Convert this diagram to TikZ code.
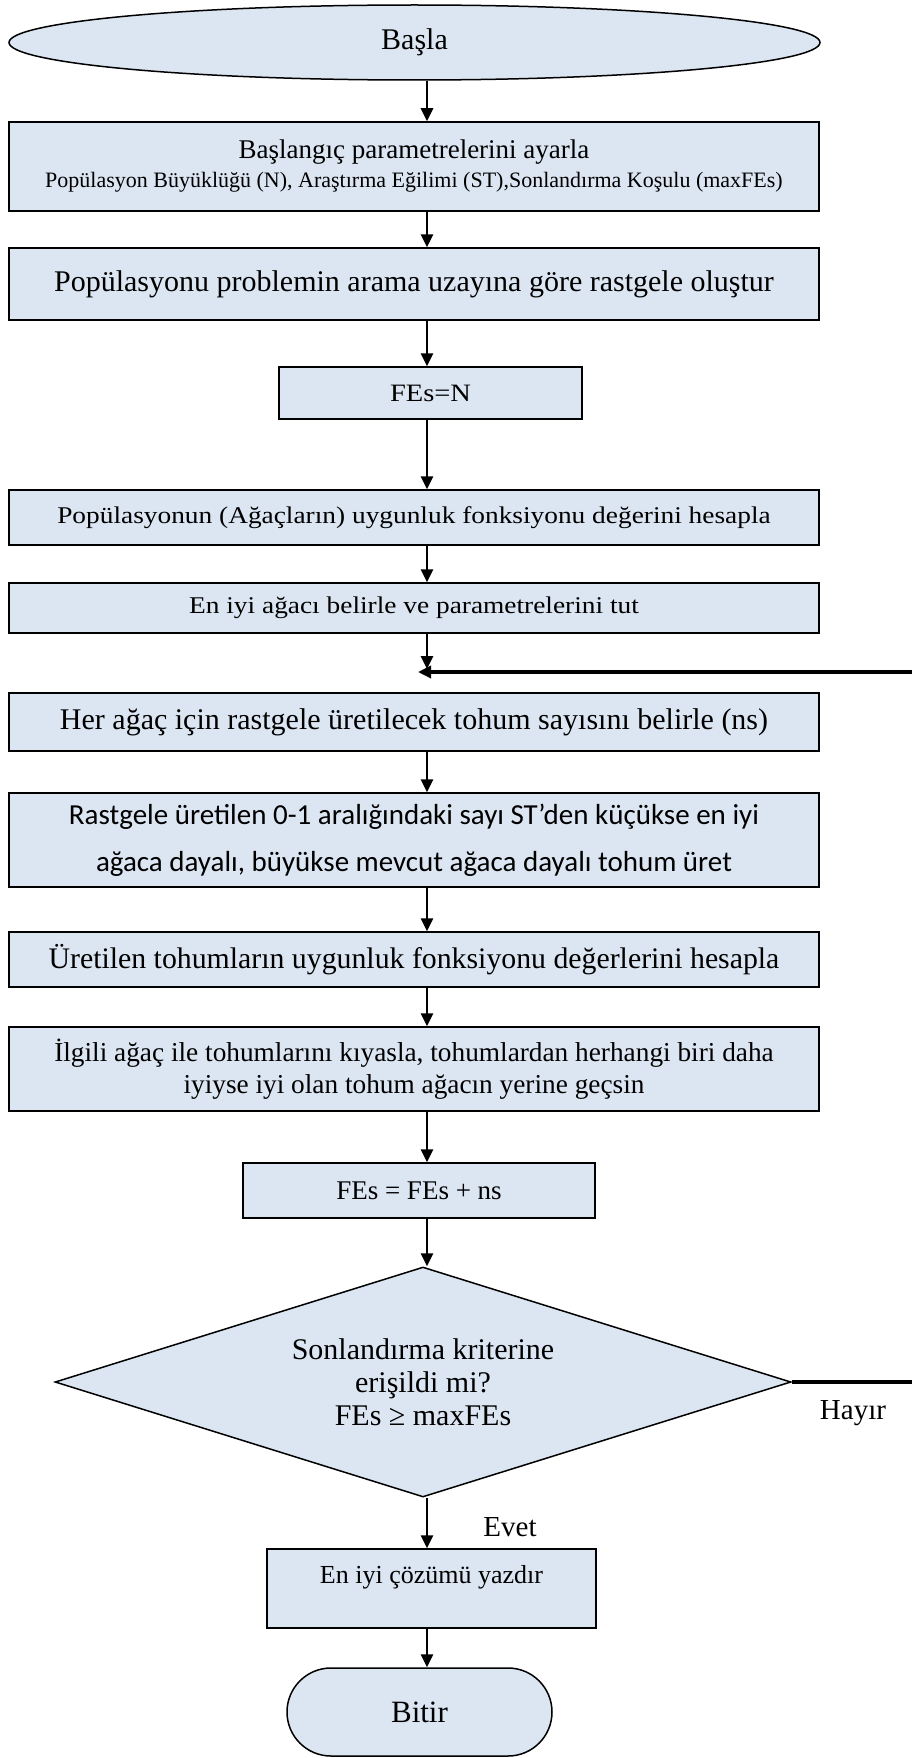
\documentclass[tikz,border=0pt]{standalone}
\usepackage{fontspec}
\setmainfont{Liberation Serif}
\newfontfamily\widefont[FakeStretch=1.14]{Liberation Serif}
\newfontfamily\calfont{Carlito}
\usetikzlibrary{shapes, arrows.meta, calc, positioning}
\definecolor{boxblue}{HTML}{DCE6F2}
\tikzset{
    base/.style = {draw, fill=boxblue, line width=1.5pt, inner sep=0pt, align=center},
    box/.style = {base, rectangle},% plain process box
    term/.style = {base, ellipse},
    stadium/.style = {base, rectangle, rounded corners=44pt},
    dec/.style = {base, diamond, shape aspect=3.2},
    arr/.style = {-{Triangle[length=13pt,width=12pt]}, line width=2.8pt},
    lbl/.style = {inner sep=0pt, font=\fontsize{29}{32}\selectfont}
}
\begin{document}
\begin{tikzpicture}[x=1pt, y=-1pt]
        \useasboundingbox (0,0) rectangle (912,1758);
        
        %nodes
        
        \node[term, minimum width=811pt, minimum height=75pt, font=\fontsize{30}{34}\selectfont] (start) at (414.5,42.5) {Başla};
        \node[box, minimum width=810pt, minimum height=89pt, font=\fontsize{22}{29}\selectfont] (b1) at (414,166.5) {{\fontsize{27}{29}\selectfont Başlangıç parametrelerini ayarla}\\Popülasyon Büyüklüğü (N), Araştırma Eğilimi (ST),Sonlandırma Koşulu (maxFEs)};
        \node[box, minimum width=810pt, minimum height=72pt, font=\fontsize{30}{34}\selectfont] (b2) at (414,284) {Popülasyonu problemin arama uzayına göre rastgele oluştur};
        \node[box, minimum width=303pt, minimum height=52pt, font=\widefont\fontsize{25}{29}\selectfont] (b3) at (430.5,393) {FEs=N};
        \node[box, minimum width=810pt, minimum height=55pt, font=\widefont\fontsize{24}{28}\selectfont] (b4) at (414,517.5) {Popülasyonun (Ağaçların) uygunluk fonksiyonu değerini hesapla};
        \node[box, minimum width=810pt, minimum height=50pt, font=\widefont\fontsize{24}{28}\selectfont] (b5) at (414,608) {En iyi ağacı belirle ve parametrelerini tut};
        \node[box, minimum width=810pt, minimum height=58pt, font=\fontsize{30}{34}\selectfont] (b6) at (414,722) {Her ağaç için rastgele üretilecek tohum sayısını belirle (ns)};
        \node[box, minimum width=810pt, minimum height=94pt, font=\calfont\fontsize{29}{47}\selectfont] (b7) at (414,840) {Rastgele üretilen 0-1 aralığındaki sayı ST’den küçükse en iyi\\ağaca dayalı, büyükse mevcut ağaca dayalı tohum üret};
        \node[box, minimum width=810pt, minimum height=55pt, font=\fontsize{29.8}{33}\selectfont] (b8) at (414,959.5) {Üretilen tohumların uygunluk fonksiyonu değerlerini hesapla};
        \node[box, minimum width=810pt, minimum height=84pt, font=\fontsize{27.3}{32}\selectfont] (b9) at (414,1069) {İlgili ağaç ile tohumlarını kıyasla, tohumlardan herhangi biri daha\\iyiyse iyi olan tohum ağacın yerine geçsin};
        \node[box, minimum width=352pt, minimum height=55pt, font=\fontsize{27}{31}\selectfont] (b10) at (419,1190.5) {FEs = FEs + ns};
        \node[dec, minimum width=736pt, minimum height=230pt, font=\fontsize{30}{33}\selectfont] (check) at (423,1382) {Sonlandırma kriterine\\erişildi mi?\\FEs ≥ maxFEs};
        \node[box, minimum width=329pt, minimum height=79pt, text depth=28pt, font=\fontsize{26}{30}\selectfont] (b11) at (431.5,1588.5) {En iyi çözümü yazdır};
        \node[stadium, minimum width=265pt, minimum height=88pt, font=\fontsize{31}{35}\selectfont] (stop) at (419.5,1712) {Bitir};
        \node[lbl] (no) at (853,1413) {Hayır};
        \node[lbl] (yes) at (510,1527) {Evet};
        
        %helper points
        
        \coordinate (col) at (427,0);
        \coordinate (jn) at (427,672);
        
        %arrows
        
        \draw[arr] (start.south -| col) -- (b1.north -| col);
        \draw[arr] (b1.south -| col) -- (b2.north -| col);
        \draw[arr] (b2.south -| col) -- (b3.north -| col);
        \draw[arr] (b3.south -| col) -- (b4.north -| col);
        \draw[arr] (b4.south -| col) -- (b5.north -| col);
        \draw[arr] (b5.south -| col) -- ([yshift=3pt]jn);
        \draw[arr] (b6.south -| col) -- (b7.north -| col);
        \draw[arr] (b7.south -| col) -- (b8.north -| col);
        \draw[arr] (b8.south -| col) -- (b9.north -| col);
        \draw[arr] (b9.south -| col) -- (b10.north -| col);
        \draw[arr] (b10.south -| col) -- (check.north -| col);
        \draw[arr] (check.south -| col) -- (b11.north -| col);
        \draw[arr] (b11.south -| col) -- (stop.north -| col);
        
        %loop back
        
        \draw[arr, line width=3.4pt] (check.east) -- ++(150,0) |- ([xshift=-9pt]jn);
    \end{tikzpicture}
\end{document}
